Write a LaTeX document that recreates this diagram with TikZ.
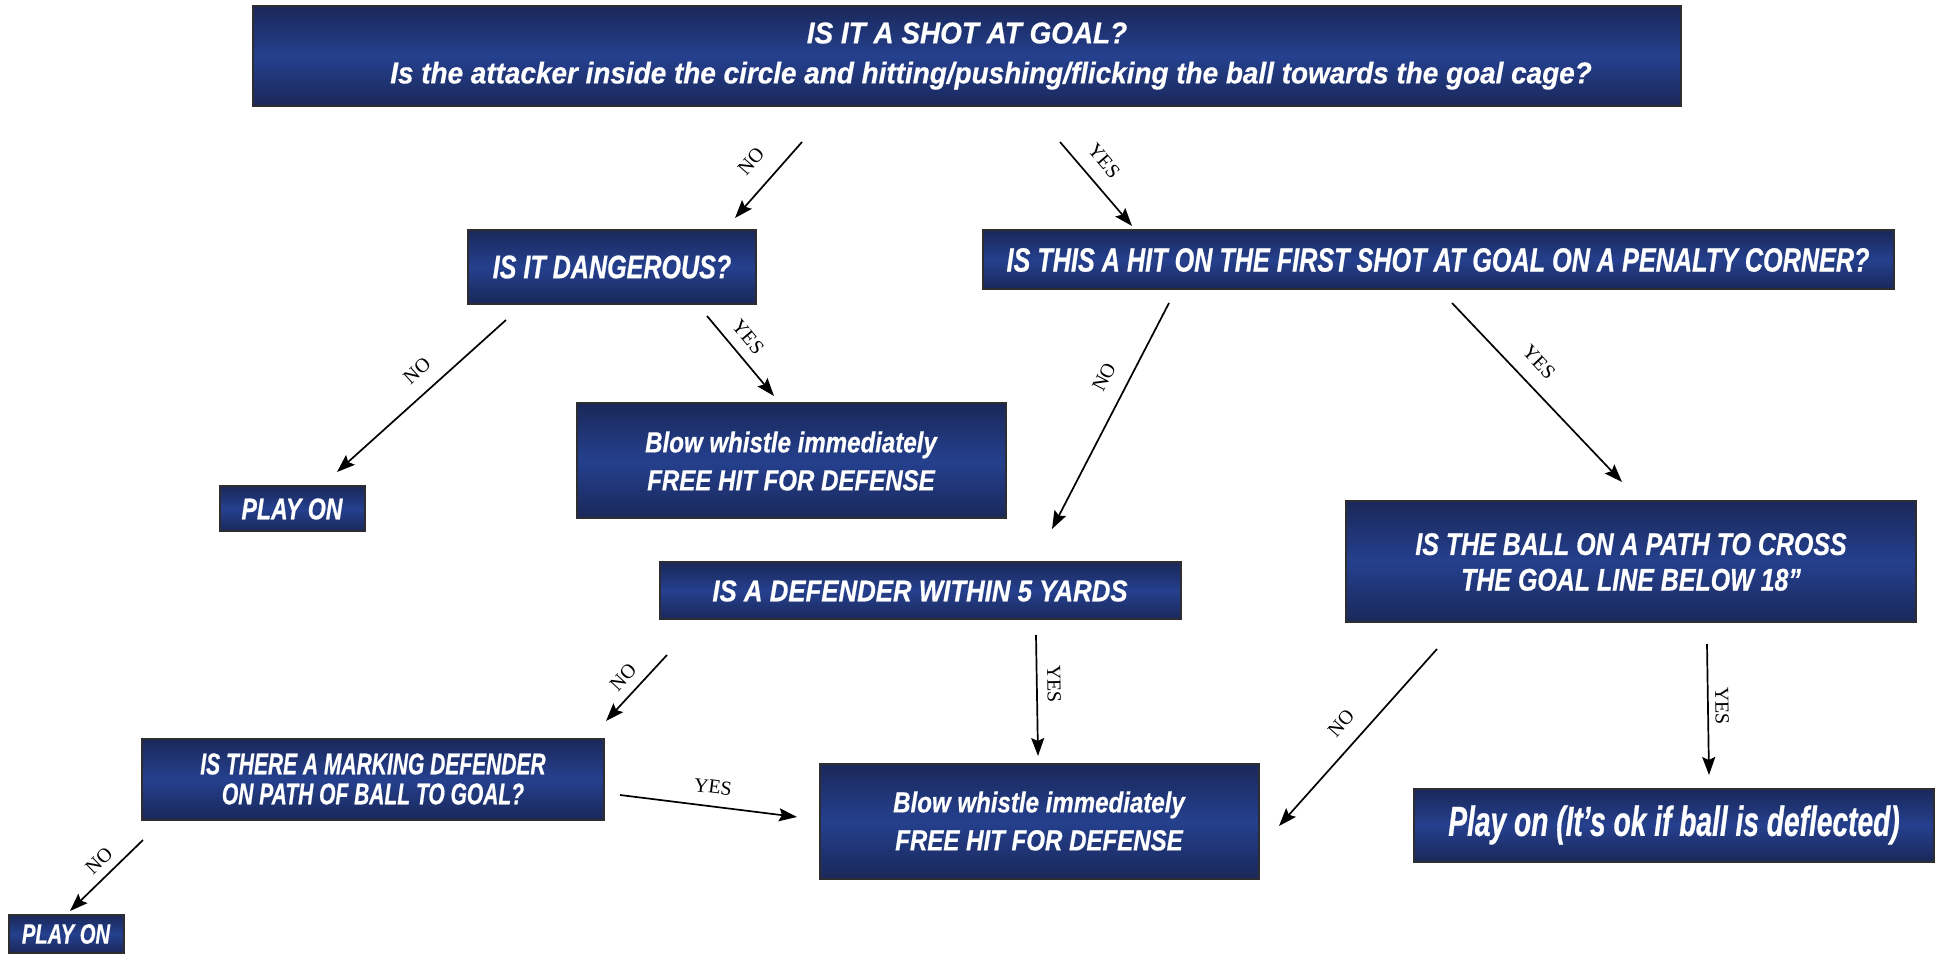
\documentclass[tikz,border=0pt]{standalone}
\usepackage{fontspec}
\setmainfont{Liberation Serif}
\usetikzlibrary{arrows.meta}

\definecolor{boxedge}{RGB}{26,40,90}
\definecolor{boxmid}{RGB}{37,64,142}
\definecolor{boxline}{RGB}{45,45,50}

% stretch, size, baselineskip
\newcommand\boxfont[3]{\fontspec{Liberation Sans}[FakeStretch=#1,FakeBold=0.6]\fontsize{#2}{#3}\selectfont\bfseries\itshape}

\tikzstyle{arrow} = [line width=0.85pt,-{Stealth[length=9pt,width=6.5pt,inset=1.5pt]}]
\tikzstyle{qbox} = [draw=boxline,line width=1pt,top color=boxedge,bottom color=boxedge,middle color=boxmid,text=white,align=center,inner sep=0pt]
\tikzstyle{lbl} = [font=\fontsize{10}{12}\selectfont,inner sep=0pt]

\begin{document}
\begin{tikzpicture}[x=0.5pt,y=0.5pt,yscale=-1,xscale=1]
\useasboundingbox (0,0) rectangle (1938,956);

% question boxes
\node[qbox,minimum width=714pt,minimum height=50pt,font=\boxfont{0.93}{15}{20}] (shot) at (967,56)
  {IS IT A SHOT AT GOAL?\\\hspace*{24pt}Is the attacker inside the circle and hitting/pushing/flicking the ball towards the goal cage?};
\node[qbox,minimum width=144pt,minimum height=37pt,font=\boxfont{0.77}{16.3}{20}] (danger) at (612,267) {IS IT DANGEROUS?};
\node[qbox,minimum width=455.5pt,minimum height=29.5pt,font=\boxfont{0.75}{16.8}{20}] (penalty) at (1438,260)
  {IS THIS A HIT ON THE FIRST SHOT AT GOAL ON A PENALTY CORNER?};
\node[qbox,minimum width=214.5pt,minimum height=57.5pt,font=\boxfont{0.83}{14.5}{19}] (whistleA) at (791,461)
  {Blow whistle immediately\\FREE HIT FOR DEFENSE};
\node[qbox,minimum width=72.5pt,minimum height=22.5pt,font=\boxfont{0.77}{15}{18}] (playA) at (292,509) {PLAY ON};
\node[qbox,minimum width=260.5pt,minimum height=28.5pt,font=\boxfont{0.86}{15}{18}] (defender) at (920,591)
  {IS A DEFENDER WITHIN 5 YARDS};
\node[qbox,minimum width=285pt,minimum height=60.5pt,font=\boxfont{0.8}{15.6}{17.8}] (ballpath) at (1631,562)
  {IS THE BALL ON A PATH TO CROSS\\THE GOAL LINE BELOW 18”};
\node[qbox,minimum width=231pt,minimum height=40.5pt,font=\boxfont{0.7}{15}{15}] (marking) at (373,779)
  {IS THERE A MARKING DEFENDER\\ON PATH OF BALL TO GOAL?};
\node[qbox,minimum width=219.5pt,minimum height=57.5pt,font=\boxfont{0.83}{14.5}{19}] (whistleB) at (1039,821)
  {Blow whistle immediately\\FREE HIT FOR DEFENSE};
\node[qbox,minimum width=260pt,minimum height=36.5pt,font=\boxfont{0.67}{21}{24}] (playdefl) at (1674,825)
  {Play on (It’s ok if ball is deflected)};
\node[qbox,minimum width=57.5pt,minimum height=19pt,font=\boxfont{0.72}{14}{16}] (playB) at (66,934) {PLAY ON};

% arrow ends
\coordinate (shotNo) at (802,142);    \coordinate (dangerIn) at (735,218);
\coordinate (shotYes) at (1060,142);  \coordinate (penaltyIn) at (1132,226);
\coordinate (dangerNo) at (506,320);  \coordinate (playAIn) at (337,472);
\coordinate (dangerYes) at (707,316); \coordinate (whistleAIn) at (774,396);
\coordinate (penaltyNo) at (1169,303);  \coordinate (defenderIn) at (1052,529);
\coordinate (penaltyYes) at (1452,303); \coordinate (ballpathIn) at (1622,482);
\coordinate (defenderNo) at (667,655);  \coordinate (markingIn) at (606,721);
\coordinate (defenderYes) at (1036,635); \coordinate (whistleBTop) at (1038,756);
\coordinate (markingYes) at (620,795);  \coordinate (whistleBLeft) at (797,817);
\coordinate (markingNo) at (143,840);   \coordinate (playBIn) at (70,911);
\coordinate (ballpathNo) at (1437,649); \coordinate (whistleBRight) at (1279,826);
\coordinate (ballpathYes) at (1707,644); \coordinate (playdeflIn) at (1709,775);

% connectors
\draw[arrow] (shotNo) -- (dangerIn);
\draw[arrow] (shotYes) -- (penaltyIn);
\draw[arrow] (dangerNo) -- (playAIn);
\draw[arrow] (dangerYes) -- (whistleAIn);
\draw[arrow] (penaltyNo) -- (defenderIn);
\draw[arrow] (penaltyYes) -- (ballpathIn);
\draw[arrow] (defenderNo) -- (markingIn);
\draw[arrow] (defenderYes) -- (whistleBTop);
\draw[arrow] (markingYes) -- (whistleBLeft);
\draw[arrow] (markingNo) -- (playBIn);
\draw[arrow] (ballpathNo) -- (whistleBRight);
\draw[arrow] (ballpathYes) -- (playdeflIn);

% answer labels
\node[lbl,rotate=48.6] (noShot) at (751,161) {NO};
\node[lbl,rotate=-49.4] (yesShot) at (1104,161) {YES};
\node[lbl,rotate=42] (noDanger) at (417,371) {NO};
\node[lbl,rotate=-50] (yesDanger) at (748,337) {YES};
\node[lbl,rotate=62.6] (noPenalty) at (1104,377) {NO};
\node[lbl,rotate=-46.5] (yesPenalty) at (1539,362) {YES};
\node[lbl,rotate=47.3] (noDefender) at (623,677) {NO};
\node[lbl,rotate=-89] (yesDefender) at (1054,684) {YES};
\node[lbl,rotate=-7.1] (yesMarking) at (713,787) {YES};
\node[lbl,rotate=44.2] (noMarking) at (99,861) {NO};
\node[lbl,rotate=48.2] (noBallpath) at (1341,723) {NO};
\node[lbl,rotate=-89] (yesBallpath) at (1722,706) {YES};

\end{tikzpicture}
\end{document}
